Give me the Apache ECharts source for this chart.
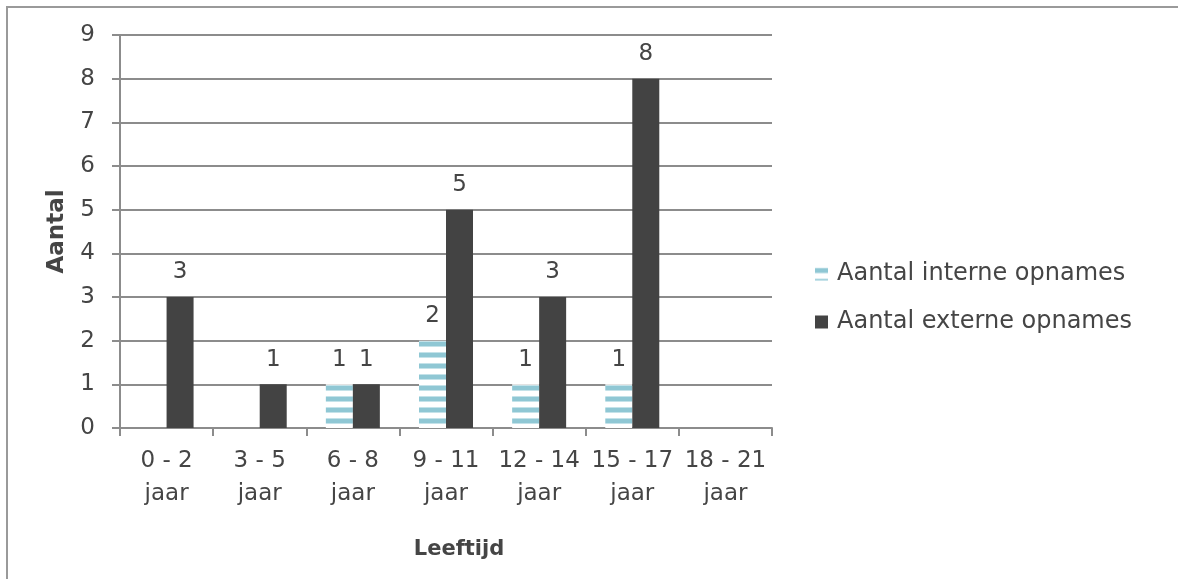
<!DOCTYPE html>
<html>
<head>
<meta charset="utf-8">
<script src="https://cdn.jsdelivr.net/npm/echarts@6/dist/echarts.min.js"></script>
<style>
  html, body { margin: 0; padding: 0; background: #fff; }
  #chart { width: 1178px; height: 579px; }
</style>
</head>
<body>
<div id="chart"></div>
<script>
// categorieën en waarden
const categories = ['0 - 2\njaar', '3 - 5\njaar', '6 - 8\njaar', '9 - 11\njaar', '12 - 14\njaar', '15 - 17\njaar', '18 - 21\njaar'];
const interneOpnames = [0, 0, 1, 2, 1, 1, 0];
const externeOpnames = [3, 1, 1, 5, 3, 8, 0];
const yTicks = [0, 1, 2, 3, 4, 5, 6, 7, 8, 9];

const fontFamily = '"DejaVu Sans", sans-serif';
const textColor = '#454545';

// gestreept patroon voor de interne opnames
function stripePattern() {
  const c = document.createElement('canvas');
  c.width = 8;
  c.height = 11;
  const ctx = c.getContext('2d');
  ctx.fillStyle = '#ffffff';
  ctx.fillRect(0, 0, 8, 11);
  ctx.fillStyle = '#c4e2e9';
  ctx.fillRect(0, 0, 8, 1);
  ctx.fillStyle = '#8fc7d4';
  ctx.fillRect(0, 1, 8, 4);
  ctx.fillStyle = '#c4e2e9';
  ctx.fillRect(0, 5, 8, 1);
  return c;
}

const chart = echarts.init(document.getElementById('chart'));
const labelOpt = {
  show: true,
  position: 'top',
  distance: 13,
  color: textColor,
  fontSize: 23,
  fontFamily: fontFamily,
  formatter: p => (p.value ? p.value : '')
};

chart.setOption({
  animation: false,
  graphic: [{
    type: 'rect',
    shape: { x: 7, y: 7, width: 1300, height: 700 },
    style: { fill: 'none', stroke: '#9a9a9a', lineWidth: 2 },
    silent: true
  }],
  grid: { left: 120, top: 35, right: 406, bottom: 151 },
  legend: {
    orient: 'vertical',
    left: 810,
    top: 257,
    icon: 'rect',
    itemWidth: 13,
    itemHeight: 13,
    itemGap: 24,
    textStyle: { color: textColor, fontSize: 24, fontFamily: fontFamily, padding: [0, 0, 0, 4] },
    data: ['Aantal interne opnames', 'Aantal externe opnames']
  },
  xAxis: {
    type: 'category',
    data: categories,
    name: 'Leeftijd',
    nameLocation: 'middle',
    nameGap: 111,
    nameTextStyle: { color: textColor, fontSize: 21, fontWeight: 'bold', fontFamily: fontFamily, padding: [0, 0, 0, 26] },
    axisLine: { lineStyle: { color: '#8c8c8c', width: 2 } },
    axisTick: { show: true, length: 8, lineStyle: { color: '#8c8c8c', width: 2 } },
    axisLabel: { interval: 0, color: textColor, fontSize: 23, fontFamily: fontFamily, lineHeight: 33, margin: 17 }
  },
  yAxis: {
    type: 'value',
    min: yTicks[0],
    max: yTicks[yTicks.length - 1],
    interval: 1,
    name: 'Aantal',
    nameLocation: 'middle',
    nameGap: 51,
    nameRotate: 90,
    nameTextStyle: { color: textColor, fontSize: 23, fontWeight: 'bold', fontFamily: fontFamily },
    axisLine: { show: true, lineStyle: { color: '#8c8c8c', width: 2 } },
    axisTick: { show: true, length: 8, lineStyle: { color: '#8c8c8c', width: 2 } },
    axisLabel: { color: textColor, fontSize: 23, fontFamily: fontFamily, margin: 25 },
    splitLine: { lineStyle: { color: '#8c8c8c', width: 2 } }
  },
  series: [
    {
      name: 'Aantal interne opnames',
      type: 'bar',
      data: interneOpnames,
      barWidth: 27,
      barGap: '0%',
      itemStyle: { color: { image: stripePattern(), repeat: 'repeat' } },
      label: labelOpt
    },
    {
      name: 'Aantal externe opnames',
      type: 'bar',
      data: externeOpnames,
      barWidth: 27,
      itemStyle: { color: '#434343' },
      label: labelOpt
    }
  ]
});
</script>
</body>
</html>
